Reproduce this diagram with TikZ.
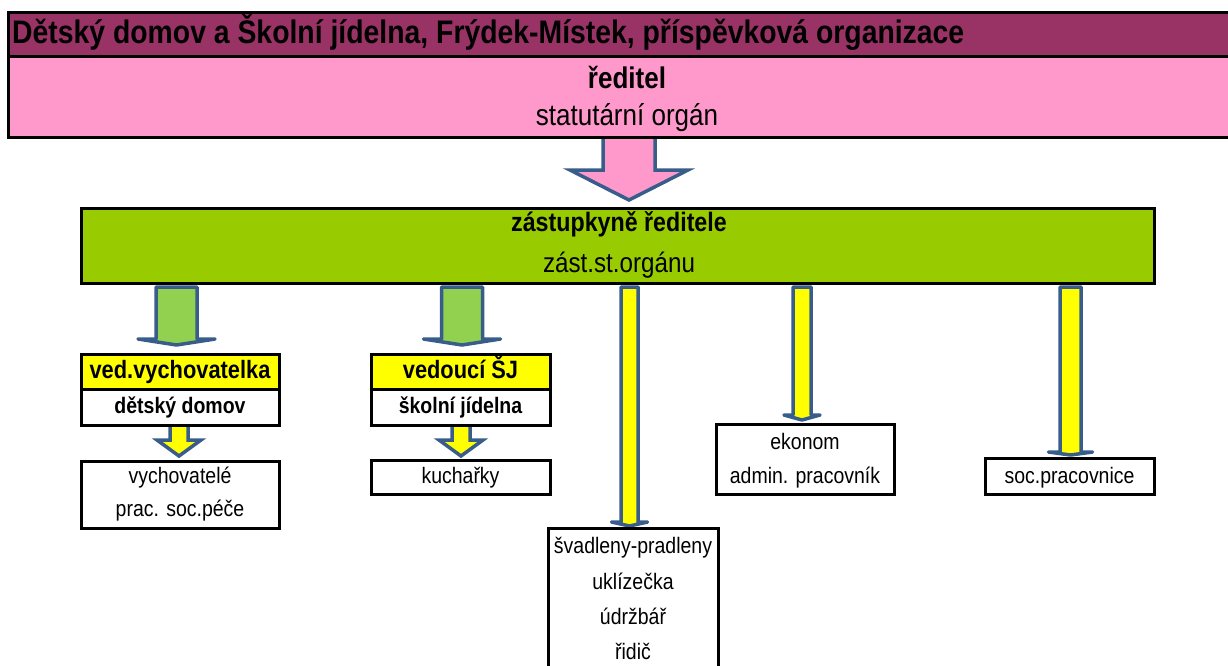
\documentclass[tikz,border=0pt]{standalone}
\usepackage{fontspec}
\setmainfont{Liberation Sans}[FakeStretch=0.87]
\usetikzlibrary{calc,backgrounds}
\definecolor{plum}{HTML}{993366}
\definecolor{pinkf}{HTML}{FF99CC}
\definecolor{lime}{HTML}{99CC00}
\definecolor{arrgreen}{HTML}{92D050}
\definecolor{yel}{HTML}{FFFF00}
\definecolor{arrblue}{HTML}{385D8A}
\newcommand\fsz[1]{\fontsize{#1}{#1}\selectfont}
% #1 fill (and extra options), #2 x centre, #3 from anchor, #4 to anchor, #5 top gap, #6 bottom gap,
% #7 shaft half width, #8 head half width, #9 head height
\newcommand\blockarr[9]{%
  \draw[arrline, fill=#1] let \p1=(#3), \p2=(#4) in
    ({(#2-#7)*1pt},{\y1-(#5)*1pt}) -- ({(#2+#7)*1pt},{\y1-(#5)*1pt})
    -- ({(#2+#7)*1pt},{\y2+(#6+#9)*1pt}) -- ({(#2+#8)*1pt},{\y2+(#6+#9)*1pt})
    -- ({#2*1pt},{\y2+(#6)*1pt}) -- ({(#2-#8)*1pt},{\y2+(#6+#9)*1pt})
    -- ({(#2-#7)*1pt},{\y2+(#6+#9)*1pt}) -- cycle;}
\begin{document}
\begin{tikzpicture}[x=1pt,y=-1pt,
  box/.style={draw=black, line width=3pt, anchor=north west, inner sep=0pt, outer sep=0pt},
  arrline/.style={draw=arrblue, line width=3.5pt, line join=round},
  txt/.style={anchor=base, inner sep=0pt, font={\fsz{22.4}}},
  ]
\useasboundingbox (0,0) rectangle (1228,665);

% boxes
\node[box, fill=plum,  minimum width=1232pt, minimum height=44pt] (title) at (8,12) {};
\node[box, fill=pinkf, minimum width=1232pt, minimum height=81pt] (pink) at (8,56) {};
\node[box, fill=lime,  minimum width=1073pt, minimum height=75pt] (green) at (81,208) {};
\node[box, fill=yel,   minimum width=198pt, minimum height=35pt] (vvA) at (81,354) {};
\node[box, fill=white, minimum width=198pt, minimum height=36pt] (vvB) at (81,389) {};
\node[box, fill=yel,   minimum width=179pt, minimum height=35pt] (sjA) at (371,354) {};
\node[box, fill=white, minimum width=179pt, minimum height=36pt] (sjB) at (371,389) {};
\node[box, fill=white, minimum width=198pt, minimum height=67pt] (vych) at (81,461) {};
\node[box, fill=white, minimum width=179pt, minimum height=34pt] (kuch) at (371,460) {};
\node[box, fill=white, minimum width=178pt, minimum height=70pt] (ekon) at (716,424) {};
\node[box, fill=white, minimum width=169pt, minimum height=36pt] (soc) at (985,458) {};
\node[box, fill=white, minimum width=170pt, minimum height=150pt] (svad) at (548,528) {};

% texts
\node[txt, anchor=base west, font={\fsz{32.6}\bfseries}] (ttitle) at (12,43) {Dětský domov a Školní jídelna, Frýdek-Místek, příspěvková organizace};
\node[txt, font={\fsz{29.9}\bfseries}] (tred) at (627,88) {ředitel};
\node[txt, font={\fsz{29.9}}] (tstat) at (627,125) {statutární orgán};
\node[txt, font={\fsz{26.7}\bfseries}] (tzast) at (619,231) {zástupkyně ředitele};
\node[txt, font={\fsz{27.8}}] (tzorg) at (619,272) {zást.st.orgánu};
\node[txt, font={\fsz{25.1}\bfseries}] (tvv) at (180,378) {ved.vychovatelka};
\node[txt, font={\fsz{22.4}\bfseries}] (tdd) at (180,413) {dětský domov};
\node[txt, font={\fsz{25.1}\bfseries}] (tsj) at (460.5,378) {vedoucí ŠJ};
\node[txt, font={\fsz{22.4}\bfseries}] (tsjd) at (460.5,413) {školní jídelna};
\node[txt] (tvych) at (180,483) {vychovatelé};
\node[txt] (tprac) at (180,516) {prac. soc.péče};
\node[txt] (tkuch) at (460.5,483) {kuchařky};
\node[txt] (tekon) at (805,449) {ekonom};
\node[txt] (tadm) at (805,483) {admin. pracovník};
\node[txt] (tsoc) at (1069.5,483) {soc.pracovnice};
\node[txt] (tsv1) at (633,553) {švadleny-pradleny};
\node[txt] (tsv2) at (633,589) {uklízečka};
\node[txt] (tsv3) at (633,624) {údržbář};
\node[txt] (tsv4) at (633,659) {řidič};

% arrows under the boxes
\begin{pgfonlayer}{background}
\blockarr{pinkf, line join=miter}{629}{pink.south}{green.north}{-1}{8}{26}{59}{30}
\blockarr{arrgreen}{176.5}{green.south}{vvA.north}{4}{9}{20.5}{38.5}{6}
\blockarr{arrgreen}{462}{green.south}{sjA.north}{4}{9}{20.5}{38.5}{6}
\blockarr{yel, line join=miter}{179}{vvB.south}{vych.north}{-1}{5}{9}{22}{16}
\blockarr{yel, line join=miter}{461}{sjB.south}{kuch.north}{-1}{4}{9}{22}{16}
\blockarr{yel}{629.5}{green.south}{svad.north}{4}{2}{8.5}{18}{4}
\blockarr{yel}{802}{green.south}{ekon.north}{4}{4}{9}{18}{5}
\blockarr{yel}{1070.5}{green.south}{soc.north}{4}{3}{10.5}{22}{3}
\end{pgfonlayer}
\end{tikzpicture}
\end{document}
